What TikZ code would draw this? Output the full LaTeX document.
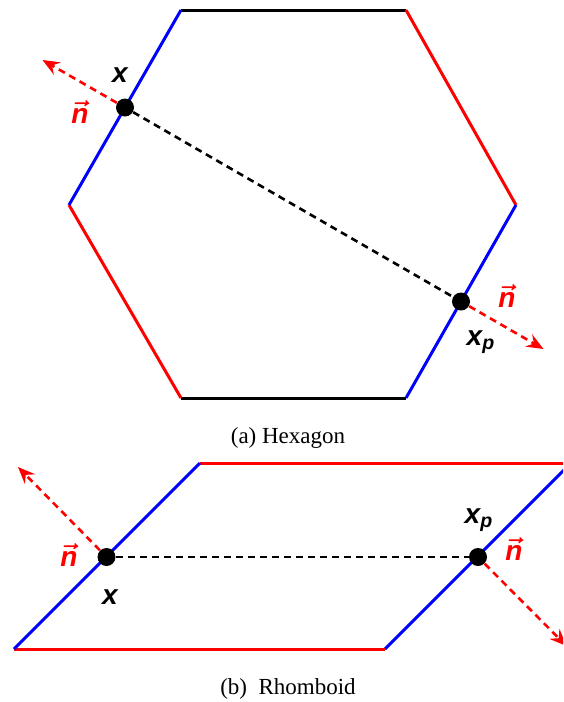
\documentclass[tikz,border=0pt]{standalone}
\usepackage{amsmath}
\usepackage{fontspec}
\setmainfont{Liberation Serif}
\newfontfamily\lblfont{Liberation Sans}
\usetikzlibrary{arrows.meta}
\definecolor{edgeblue}{HTML}{0000FF}
\definecolor{edgered}{HTML}{FF0000}
\tikzset{
  edgeline/.style={line width=1.5pt},
  ptdot/.style={circle,fill=black,inner sep=0pt,minimum size=9pt},
  normalarrow/.style={edgered,line width=1.3pt,dash pattern=on 3.5pt off 2.5pt,
    -{Stealth[length=8.5pt,width=7pt,inset=3pt]}},
  joinline/.style={black,line width=1.3pt,dash pattern=on 3.5pt off 2.5pt},
  lbl/.style={font=\lblfont\bfseries\itshape\fontsize{14}{16}\selectfont},
  nlbl/.style={lbl,text=edgered},
  caption/.style={font=\fontsize{11.5}{13}\selectfont}
}
\newcommand{\nvec}{$\boldsymbol{\vec{\mbox{\lblfont\bfseries\itshape n}}}$}

\begin{document}
\begin{tikzpicture}[x=0.5pt,y=-0.5pt]
  \clip (0,0) rectangle (563,702);
  % hexagon
  \coordinate (hA) at (181,10);
  \coordinate (hB) at (406,10);
  \coordinate (hC) at (516,205);
  \coordinate (hD) at (406,398);
  \coordinate (hE) at (181,398);
  \coordinate (hF) at (69,205);
  \draw[edgeline,black] (hA) -- (hB);
  \draw[edgeline,edgered] (hB) -- (hC);
  \draw[edgeline,edgeblue] (hC) -- (hD);
  \draw[edgeline,black] (hD) -- (hE);
  \draw[edgeline,edgered] (hE) -- (hF);
  \draw[edgeline,edgeblue] (hF) -- (hA);
  \node[ptdot] (hx) at (125,107.5) {};
  \node[ptdot] (hxp) at (461,301.5) {};
  \coordinate (hnx) at (42.5,60);
  \coordinate (hnxp) at (543.5,349);
  \draw[joinline] (hx) -- (hxp);
  \draw[normalarrow] (hx) -- (hnx);
  \draw[normalarrow] (hxp) -- (hnxp);
  \node[lbl] (hxl) at (120,75) {x};
  \node[nlbl] (hnl) at (80,112) {\nvec};
  \node[nlbl] (hnpl) at (507,296) {\nvec};
  \node[lbl] (hxpl) at (481,342) {x\textsubscript{p}};
  \node[caption] (capa) at (288,438) {(a) Hexagon};
  % rhomboid
  \coordinate (rP) at (14,649);
  \coordinate (rQ) at (385,649);
  \coordinate (rR) at (571,463);
  \coordinate (rS) at (200,463);
  \draw[edgeline,edgered] (rS) -- (rR);
  \draw[edgeline,edgeblue] (rR) -- (rQ);
  \draw[edgeline,edgered] (rQ) -- (rP);
  \draw[edgeline,edgeblue] (rP) -- (rS);
  \node[ptdot] (rx) at (106.5,557) {};
  \node[ptdot] (rxp) at (478,557) {};
  \coordinate (rnx) at (18,467);
  \coordinate (rnxp) at (566.5,646);
  \draw[joinline] (rx) -- (rxp);
  \draw[normalarrow] (rx) -- (rnx);
  \draw[normalarrow] (rxp) -- (rnxp);
  \node[nlbl] (rnl) at (69,555) {\nvec};
  \node[lbl] (rxl) at (110,597) {x};
  \node[lbl] (rxpl) at (479,520) {x\textsubscript{p}};
  \node[nlbl] (rnpl) at (514,549) {\nvec};
  \node[caption] (capb) at (288,689) {(b)\ \ Rhomboid};
\end{tikzpicture}
\end{document}
